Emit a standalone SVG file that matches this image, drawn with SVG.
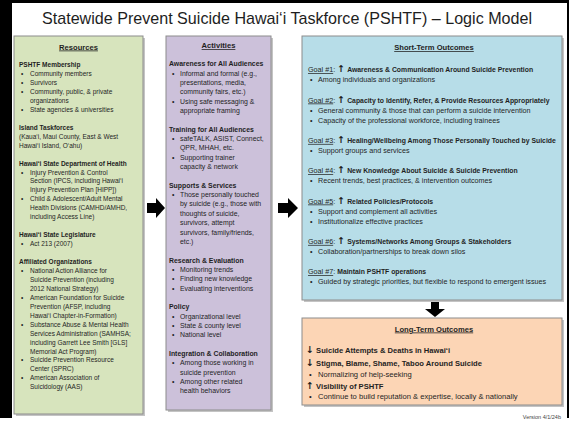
<svg xmlns="http://www.w3.org/2000/svg" width="569" height="421" viewBox="0 0 569 421">
<style>
.box{stroke:#8c8c8c;stroke-width:1}
.sh{fill:#c4c4c4}
.t{font-family:"Liberation Sans",Arial,sans-serif;fill:#1f1f1f}
.g{font-size:6.5px}
.p{font-size:6.9px}
.s{font-size:7.2px}
.o{font-size:7.6px}
.b{font-weight:bold}
.sb{font-weight:bold;font-size:6.85px}
.h{font-family:"Liberation Sans",Arial,sans-serif;font-weight:bold;text-decoration:underline;text-anchor:middle;font-size:7.6px;fill:#1f1f1f}
.u{text-decoration:underline}
.ar{font-family:"DejaVu Sans",sans-serif;font-size:9.5px;font-weight:bold}
.arrow{fill:#000}
</style>
<rect width="569" height="421" fill="#fff"/>
<g id="frame">
<rect x="0" y="0" width="569" height="3" fill="#000"/>
<rect x="0" y="0" width="12" height="418" fill="#000"/>
<rect x="567" y="0" width="2" height="418" fill="#000"/>
</g>
<g id="title">
<text x="287" y="24" font-family="'Liberation Sans',Arial,sans-serif" font-size="17" fill="#1e1e1e" text-anchor="middle" textLength="490" lengthAdjust="spacingAndGlyphs">Statewide Prevent Suicide Hawai‘i Taskforce (PSHTF) – Logic Model</text>
</g>
<g id="resources">
<rect class="sh" x="16" y="38" width="129" height="378"/>
<rect class="box" x="14" y="36" width="129" height="378" fill="#d7e4bd"/>
<text class="h" x="78.5" y="49.5">Resources</text>
<text class="t g b" x="19" y="67.1">PSHTF Membership</text>
<text class="t g" x="21" y="76.05">•</text><text class="t g" x="30" y="76.05">Community members</text>
<text class="t g" x="21" y="85">•</text><text class="t g" x="30" y="85">Survivors</text>
<text class="t g" x="21" y="93.95">•</text><text class="t g" x="30" y="93.95">Community, public, &amp; private</text>
<text class="t g" x="30" y="102.9">organizations</text>
<text class="t g" x="21" y="111.85">•</text><text class="t g" x="30" y="111.85">State agencies &amp; universities</text>
<text class="t g b" x="19" y="129.75">Island Taskforces</text>
<text class="t g" x="19" y="138.7">(Kaua‘i, Maui County, East &amp; West</text>
<text class="t g" x="19" y="147.65">Hawai‘i Island, O‘ahu)</text>
<text class="t g b" x="19" y="165.55">Hawai‘i State Department of Health</text>
<text class="t g" x="21" y="174.5">•</text><text class="t g" x="30" y="174.5">Injury Prevention &amp; Control</text>
<text class="t g" x="30" y="183.45">Section (IPCS, including Hawai‘i</text>
<text class="t g" x="30" y="192.4">Injury Prevention Plan [HIPP])</text>
<text class="t g" x="21" y="201.35">•</text><text class="t g" x="30" y="201.35">Child &amp; Adolescent/Adult Mental</text>
<text class="t g" x="30" y="210.3">Health Divisions (CAMHD/AMHD,</text>
<text class="t g" x="30" y="219.25">including Access Line)</text>
<text class="t g b" x="19" y="237.15">Hawai‘i State Legislature</text>
<text class="t g" x="21" y="246.1">•</text><text class="t g" x="30" y="246.1">Act 213 (2007)</text>
<text class="t g b" x="19" y="264">Affiliated Organizations</text>
<text class="t g" x="21" y="272.95">•</text><text class="t g" x="30" y="272.95">National Action Alliance for</text>
<text class="t g" x="30" y="281.9">Suicide Prevention (including</text>
<text class="t g" x="30" y="290.85">2012 National Strategy)</text>
<text class="t g" x="21" y="299.8">•</text><text class="t g" x="30" y="299.8">American Foundation for Suicide</text>
<text class="t g" x="30" y="308.75">Prevention (AFSP, including</text>
<text class="t g" x="30" y="317.7">Hawai‘i Chapter-in-Formation)</text>
<text class="t g" x="21" y="326.65">•</text><text class="t g" x="30" y="326.65">Substance Abuse &amp; Mental Health</text>
<text class="t g" x="30" y="335.6">Services Administration (SAMHSA;</text>
<text class="t g" x="30" y="344.55">including Garrett Lee Smith [GLS]</text>
<text class="t g" x="30" y="353.5">Memorial Act Program)</text>
<text class="t g" x="21" y="362.45">•</text><text class="t g" x="30" y="362.45">Suicide Prevention Resource</text>
<text class="t g" x="30" y="371.4">Center (SPRC)</text>
<text class="t g" x="21" y="380.35">•</text><text class="t g" x="30" y="380.35">American Association of</text>
<text class="t g" x="30" y="389.3">Suicidology (AAS)</text>
</g>
<g id="activities">
<rect class="sh" x="168" y="38" width="105" height="374"/>
<rect class="box" x="166" y="36" width="105" height="374" fill="#ccc1da"/>
<text class="h" x="218.5" y="48">Activities</text>
<text class="t p b" x="169" y="66.2">Awareness for All Audiences</text>
<text class="t p" x="172" y="75.55">•</text><text class="t p" x="180" y="75.55">Informal and formal (e.g.,</text>
<text class="t p" x="180" y="84.9">presentations, media,</text>
<text class="t p" x="180" y="94.25">community fairs, etc.)</text>
<text class="t p" x="172" y="103.6">•</text><text class="t p" x="180" y="103.6">Using safe messaging &amp;</text>
<text class="t p" x="180" y="112.95">appropriate framing</text>
<text class="t p b" x="169" y="131.65">Training for All Audiences</text>
<text class="t p" x="172" y="141">•</text><text class="t p" x="180" y="141">safeTALK, ASIST, Connect,</text>
<text class="t p" x="180" y="150.35">QPR, MHAH, etc.</text>
<text class="t p" x="172" y="159.7">•</text><text class="t p" x="180" y="159.7">Supporting trainer</text>
<text class="t p" x="180" y="169.05">capacity &amp; network</text>
<text class="t p b" x="169" y="187.75">Supports &amp; Services</text>
<text class="t p" x="172" y="197.1">•</text><text class="t p" x="180" y="197.1">Those personally touched</text>
<text class="t p" x="180" y="206.45">by suicide (e.g., those with</text>
<text class="t p" x="180" y="215.8">thoughts of suicide,</text>
<text class="t p" x="180" y="225.15">survivors, attempt</text>
<text class="t p" x="180" y="234.5">survivors, family/friends,</text>
<text class="t p" x="180" y="243.85">etc.)</text>
<text class="t p b" x="169" y="262.55">Research &amp; Evaluation</text>
<text class="t p" x="172" y="271.9">•</text><text class="t p" x="180" y="271.9">Monitoring trends</text>
<text class="t p" x="172" y="281.25">•</text><text class="t p" x="180" y="281.25">Finding new knowledge</text>
<text class="t p" x="172" y="290.6">•</text><text class="t p" x="180" y="290.6">Evaluating interventions</text>
<text class="t p b" x="169" y="309.3">Policy</text>
<text class="t p" x="172" y="318.65">•</text><text class="t p" x="180" y="318.65">Organizational level</text>
<text class="t p" x="172" y="328">•</text><text class="t p" x="180" y="328">State &amp; county level</text>
<text class="t p" x="172" y="337.35">•</text><text class="t p" x="180" y="337.35">National level</text>
<text class="t p b" x="169" y="356.05">Integration &amp; Collaboration</text>
<text class="t p" x="172" y="365.4">•</text><text class="t p" x="180" y="365.4">Among those working in</text>
<text class="t p" x="180" y="374.75">suicide prevention</text>
<text class="t p" x="172" y="384.1">•</text><text class="t p" x="180" y="384.1">Among other related</text>
<text class="t p" x="180" y="393.45">health behaviors</text>
</g>
<g id="short-term">
<rect class="sh" x="304" y="38" width="260" height="264"/>
<rect class="box" x="302" y="36" width="260" height="264" fill="#b7dde8"/>
<text class="h" x="434" y="50">Short-Term Outcomes</text>
<text class="t s" x="308" y="72.2"><tspan class="u">Goal #1</tspan>: <tspan class="ar">↑</tspan> <tspan class="sb">Awareness &amp; Communication Around Suicide Prevention</tspan></text>
<text class="t s" x="310" y="82.3">•</text><text class="t s" x="318" y="82.3">Among individuals and organizations</text>
<text class="t s" x="308" y="102.5"><tspan class="u">Goal #2</tspan>: <tspan class="ar">↑</tspan> <tspan class="sb">Capacity to Identify, Refer, &amp; Provide Resources Appropriately</tspan></text>
<text class="t s" x="310" y="112.6">•</text><text class="t s" x="318" y="112.6">General community &amp; those that can perform a suicide intervention</text>
<text class="t s" x="310" y="122.7">•</text><text class="t s" x="318" y="122.7">Capacity of the professional workforce, including trainees</text>
<text class="t s" x="308" y="142.9"><tspan class="u">Goal #3</tspan>: <tspan class="ar">↑</tspan> <tspan class="sb">Healing/Wellbeing Among Those Personally Touched by Suicide</tspan></text>
<text class="t s" x="310" y="153">•</text><text class="t s" x="318" y="153">Support groups and services</text>
<text class="t s" x="308" y="173.2"><tspan class="u">Goal #4</tspan>: <tspan class="ar">↑</tspan> <tspan class="sb">New Knowledge About Suicide &amp; Suicide Prevention</tspan></text>
<text class="t s" x="310" y="183.3">•</text><text class="t s" x="318" y="183.3">Recent trends, best practices, &amp; intervention outcomes</text>
<text class="t s" x="308" y="203.5"><tspan class="u">Goal #5</tspan>: <tspan class="ar">↑</tspan> <tspan class="sb">Related Policies/Protocols</tspan></text>
<text class="t s" x="310" y="213.6">•</text><text class="t s" x="318" y="213.6">Support and complement all activities</text>
<text class="t s" x="310" y="223.7">•</text><text class="t s" x="318" y="223.7">Institutionalize effective practices</text>
<text class="t s" x="308" y="243.9"><tspan class="u">Goal #6</tspan>: <tspan class="ar">↑</tspan> <tspan class="sb">Systems/Networks Among Groups &amp; Stakeholders</tspan></text>
<text class="t s" x="310" y="254">•</text><text class="t s" x="318" y="254">Collaboration/partnerships to break down silos</text>
<text class="t s" x="308" y="274.2"><tspan class="u">Goal #7</tspan>: <tspan class="sb">Maintain PSHTF operations</tspan></text>
<text class="t s" x="310" y="284.3">•</text><text class="t s" x="318" y="284.3">Guided by strategic priorities, but flexible to respond to emergent issues</text>
</g>
<g id="long-term">
<rect class="sh" x="304" y="320" width="260" height="87"/>
<rect class="box" x="302" y="318" width="260" height="87" fill="#fcd5b5"/>
<text class="h" x="434" y="331.5">Long-Term Outcomes</text>
<text class="t o" x="306" y="352.5"><tspan class="ar">↓</tspan> <tspan class="b">Suicide Attempts &amp; Deaths in Hawai‘i</tspan></text>
<text class="t o" x="306" y="365.5"><tspan class="ar">↓</tspan> <tspan class="b">Stigma, Blame, Shame, Taboo Around Suicide</tspan></text>
<text class="t o" x="309" y="376.5">•</text><text class="t o" x="318" y="376.5">Normalizing of help-seeking</text>
<text class="t o" x="306" y="388.5"><tspan class="ar">↑</tspan> <tspan class="b">Visibility of PSHTF</tspan></text>
<text class="t o" x="309" y="398.5">•</text><text class="t o" x="318" y="398.5">Continue to build reputation &amp; expertise, locally &amp; nationally</text>
</g>
<g id="connectors">
<path class="arrow" d="M147,203 H156 V198 L165,208 L156,218 V213 H147 Z"/>
<path class="arrow" d="M278,203 H288 V198 L298,208 L288,218 V213 H278 Z"/>
<path class="arrow" d="M431,302 H439 V309 H445 L435,317 L425,309 H431 Z"/>
</g>
<text x="561" y="419" font-family="'Liberation Sans',Arial,sans-serif" font-size="5.5" fill="#444" text-anchor="end">Version 4/1/24b</text>
</svg>
